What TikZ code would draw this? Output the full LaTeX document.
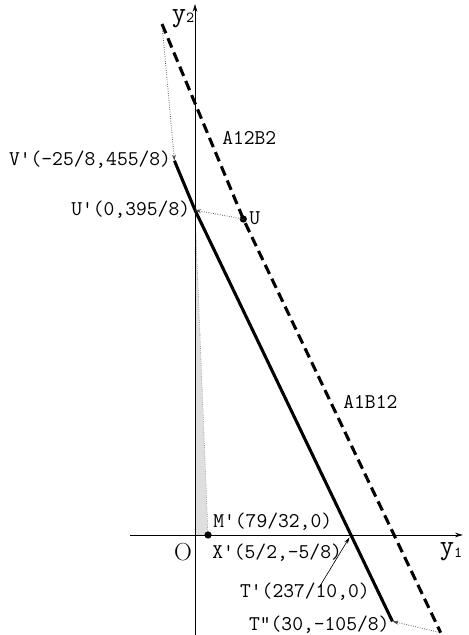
\documentclass[tikz,border=0pt]{standalone}
\usetikzlibrary{arrows.meta,positioning,calc}

\begin{document}
\begin{tikzpicture}[x=1.5mm,y=1.5mm,
every node/.style={inner sep=0pt,font=\ttfamily\fontsize{13.6}{15}\selectfont},
axis/.style={line width=0.6pt,-{Stealth[length=5pt,width=3pt]}},
hint/.style={densely dotted,gray!60!black,line width=0.5pt,-{Stealth[length=4pt,width=2.5pt]}},
solidline/.style={line width=2pt},
dashline/.style={line width=2pt,dash pattern=on 6.5pt off 3.5pt}]
\useasboundingbox (-29.64,-15.2) rectangle (41.64,81.31);
% points
\coordinate (O) at (0,0);
\coordinate (Vp) at (-3.125,56.875);
\coordinate (Up) at (0,49.375);
\coordinate (Tp) at (23.7,0);
\coordinate (Tpp) at (30,-13.125);
\coordinate (D1) at (-5.02,77.66);
\coordinate (U) at (7.34,48.02);
\coordinate (D2) at (37.34,-14.85);
\coordinate (X) at (1.98,0);
% shaded region
\fill[gray!25] (O)--(Up)--(X)--cycle;
\draw[densely dotted,gray,line width=0.4pt] (Up)--(X);
% axes
\coordinate (xa) at (-9.88,0);
\coordinate (xb) at (40.7,0);
\coordinate (ya) at (0,-15.2);
\coordinate (yb) at (0,80.7);
\draw[axis] (xa)--(xb);
\draw[axis] (ya)--(yb);
% lines
\draw[solidline] (Vp)--(Up)--(Tpp);
\draw[dashline] (D1)--(U)--(D2);
\fill (U) circle (0.55);
\fill (X) circle (0.55);
% projections
\draw[hint] (D1)--(Vp);
\draw[hint] (U)--(Up);
\draw[hint] (D2)--(Tpp);
% labels
\node (ly2) at (-1.82,78.4) {\fontsize{18}{18}\selectfont y\raisebox{-0.5pt}{\fontsize{10}{10}\selectfont 2}};
\node (ly1) at (38.9,-2.58) {\fontsize{18}{18}\selectfont y\raisebox{-2pt}{\fontsize{10}{10}\selectfont 1}};
\node (lO) at (-1.82,-2.58) {\rmfamily\fontsize{16}{16}\selectfont O};
\node[anchor=west] (lA12) at (4.1,60.3) {A12B2};
\node[anchor=west] (lA1) at (22.5,20.2) {A1B12};
\node[anchor=east] (lVp) at (-3.6,57.0) {V'(-25/8,455/8)};
\node[anchor=east] (lUp) at (-0.7,49.4) {U'(0,395/8)};
\node[anchor=west] (lU) at (8.2,48.2) {U};
\node[anchor=west] (lM) at (2.74,2.0) {M'(79/32,0)};
\node[anchor=west] (lX) at (2.58,-2.74) {X'(5/2,-5/8)};
\node (lTp) at (16.7,-8.66) {T'(237/10,0)};
\node[anchor=east] (lTpp) at (29.6,-13.7) {T"(30,-105/8)};
\coordinate (tpfoot) at (18.9,-7.9);
\draw[line width=0.4pt,-{Stealth[length=4pt,width=2.5pt]},shorten >=2pt] (tpfoot)--(Tp);
\end{tikzpicture}
\end{document}
